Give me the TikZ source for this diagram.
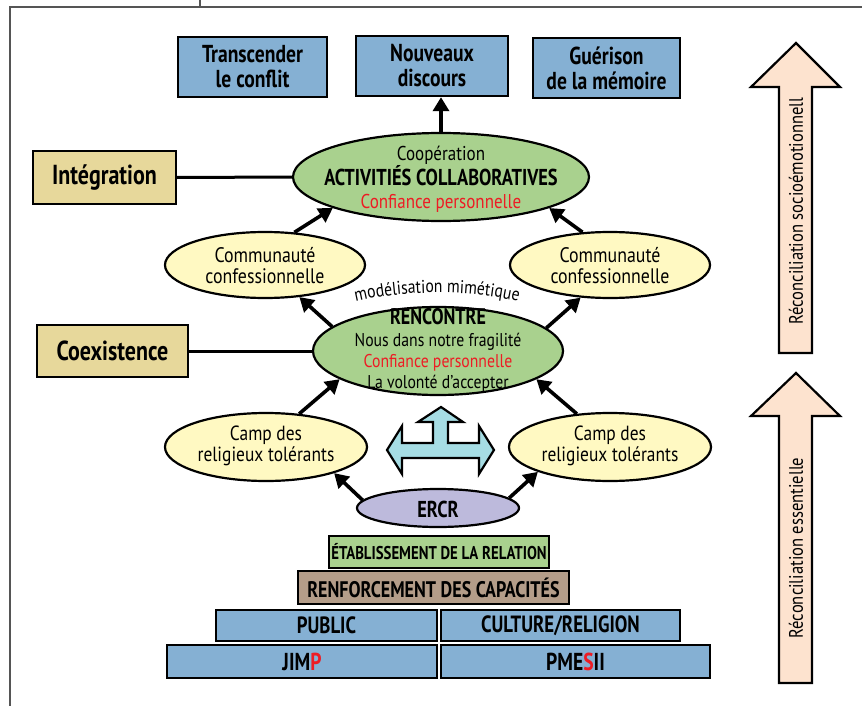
\documentclass[tikz,border=0pt]{standalone}
\usepackage{fontspec}
\setmainfont{PT Sans}[FakeStretch=0.85, BoldFeatures={FakeStretch=0.8}]
\usetikzlibrary{shapes.geometric, arrows.meta, decorations.text}
\definecolor{boxblue}{RGB}{133,176,211}
\definecolor{elgreen}{RGB}{169,209,142}
\definecolor{elyellow}{RGB}{255,249,194}
\definecolor{boxtan}{RGB}{231,216,155}
\definecolor{boxtaupe}{RGB}{180,157,137}
\definecolor{ellav}{RGB}{189,186,220}
\definecolor{arcyan}{RGB}{166,221,228}
\definecolor{arpeach}{RGB}{253,227,207}
\definecolor{tred}{RGB}{237,28,36}
\definecolor{framegray}{RGB}{85,85,85}
\newcommand{\fs}[1]{\fontsize{#1}{#1}\selectfont}
\begin{document}
\begin{tikzpicture}[x=1pt,y=-1pt,
  box/.style={draw, line width=2.4pt, inner sep=0pt, align=center},
  topbox/.style={box, fill=boxblue, font=\bfseries\fontsize{24.5}{25}\selectfont},
  sidebox/.style={box, fill=boxtan, font=\bfseries\fs{27.5}},
  basebox/.style={box, fill=boxblue, font=\bfseries\fs{23.5}},
  ell/.style={ellipse, draw, line width=2.2pt, inner sep=0pt},
  etext/.style={inner sep=0pt, align=center, font=\fontsize{21}{21}\selectfont},
  arr/.style={line width=3.6pt, -{Triangle[length=14pt,width=16pt]}},
  link/.style={line width=3pt},
  shapearrow/.style={draw, line width=2.2pt, line join=miter},
  vtext/.style={rotate=90, font=\fs{19.5}, inner sep=0pt}
]
\useasboundingbox (0,0) rectangle (862,706);
% frame lines
\draw[framegray, line width=1.2pt] (10,706) -- (10,7) -- (862,7);
\draw[framegray, line width=1.2pt] (200,0) -- (200,7);

% top boxes
\node[topbox, minimum width=149pt, minimum height=60pt] (trans) at (252.5,67) {Transcender\\le conflit};
\node[topbox, minimum width=152pt, minimum height=60pt] (nouv) at (432,66) {Nouveaux\\discours};
\node[topbox, minimum width=147pt, minimum height=60pt] (guer) at (606.5,68) {Guérison\\de la mémoire};

% side boxes
\node[sidebox, minimum width=143pt, minimum height=53pt] (integ) at (104.5,177.5) {Intégration};
\node[sidebox, minimum width=151pt, minimum height=52pt] (coex) at (112.5,351) {Coexistence};

% ellipses (shapes)
\node[ell, fill=elgreen, minimum width=296pt, minimum height=88pt] (act) at (441,177) {};
\node[ell, fill=elyellow, minimum width=200pt, minimum height=66pt] (cl) at (265,265) {};
\node[ell, fill=elyellow, minimum width=200pt, minimum height=66pt] (cr) at (610,265) {};
\node[ell, fill=elgreen, minimum width=250pt, minimum height=88pt] (ren) at (438,351) {};
\node[ell, fill=elyellow, minimum width=202pt, minimum height=68pt] (ll) at (266,447) {};
\node[ell, fill=elyellow, minimum width=202pt, minimum height=68pt] (lr) at (610,447) {};
\node[ell, fill=ellav, minimum width=162pt, minimum height=38pt] (ercr) at (438,508) {};

% ellipse texts
\node[etext, font=\fontsize{20}{22.5}\selectfont] (actt) at (441,179.5)
  {Coopération\\{\bfseries\fs{23}ACTIVITIÉS COLLABORATIVES}\\\textcolor{tred}{Confiance personnelle}};
\node[etext] (clt) at (265,266) {Communauté\\confessionnelle};
\node[etext] (crt) at (610,266) {Communauté\\confessionnelle};
\node[etext, font=\fontsize{18.5}{21}\selectfont] (rent) at (438,350.5)
  {{\bfseries\fs{22.5}RENCONTRE}\\[1pt]Nous dans notre fragilité\\\textcolor{tred}{Confiance personnelle}\\La volonté d’accepter};
\node[etext, font=\fontsize{20.5}{20.5}\selectfont] (llt) at (266,446) {Camp des\\religieux tolérants};
\node[etext, font=\fontsize{20.5}{20.5}\selectfont] (lrt) at (610,446) {Camp des\\religieux tolérants};
\node[etext, font=\bfseries\fs{23}] (ercrt) at (438,509) {ERCR};

% curved label
\path[decorate, decoration={text along path, text align=center,
  text={|\fs{18.5}|modélisation mimétique}}]
  (346,304) .. controls (398,289) and (477,289) .. (528,304);

% links
\draw[link] (integ.east) -- (act.west);
\draw[link] (coex.east) -- (ren.west);

% arrows
\draw[arr] (act.north) -- (act.north |- nouv.south);
\draw[arr] (cl.48) -- (act.196);
\draw[arr] (cr.130) -- (act.344);
\draw[arr] (ren.167) -- (cl.317);
\draw[arr] (ren.12) -- (cr.228);
\draw[arr] (ll.45) -- (ren.196);
\draw[arr] (lr.135) -- (ren.344);
\draw[arr] (ercr.174) -- (ll.339);
\draw[arr] (ercr.8) -- (lr.199);

% cyan three-way arrow
\draw[shapearrow, fill=arcyan] (441,407) -- (463,422) -- (448,422) -- (448,443) -- (479,443) -- (479,426)
  -- (494,450) -- (479,474) -- (479,458) -- (402,458) -- (402,474) -- (387,450) -- (402,426)
  -- (402,443) -- (433,443) -- (433,422) -- (418,422) -- cycle;

% base boxes
\node[box, fill=elgreen, minimum width=220pt, minimum height=32pt, font=\bfseries\fs{18.5}] (etab) at (439,552) {ÉTABLISSEMENT DE LA RELATION};
\node[box, fill=boxtaupe, minimum width=271pt, minimum height=33pt, font=\bfseries\fs{22.5}] (renf) at (433.5,587.5) {RENFORCEMENT DES CAPACITÉS};
\node[basebox, minimum width=221pt, minimum height=31pt] (pub) at (326.5,625.5) {PUBLIC};
\node[basebox, minimum width=239pt, minimum height=31pt] (cult) at (560.5,625.5) {CULTURE/RELIGION};
\node[basebox, minimum width=270pt, minimum height=33pt, font=\bfseries\fs{24.5}] (jimp) at (302,661.5) {JIM\textcolor{tred}{P}};
\node[basebox, minimum width=269pt, minimum height=33pt, font=\bfseries\fs{24.5}] (pmes) at (575.5,661.5) {PME\textcolor{tred}{S}II};

% peach arrows
\draw[shapearrow, fill=arpeach] (796,43) -- (840,87) -- (812,87) -- (812,353) -- (779,353) -- (779,87) -- (751,87) -- cycle;
\draw[shapearrow, fill=arpeach] (796,373) -- (840,416) -- (812,416) -- (812,683) -- (779,683) -- (779,416) -- (751,416) -- cycle;
\node[vtext] (rtop) at (796,211) {Réconciliation socioémotionnell};
\node[vtext] (rbot) at (796,548) {Réconciliation essentielle};
\end{tikzpicture}
\end{document}
